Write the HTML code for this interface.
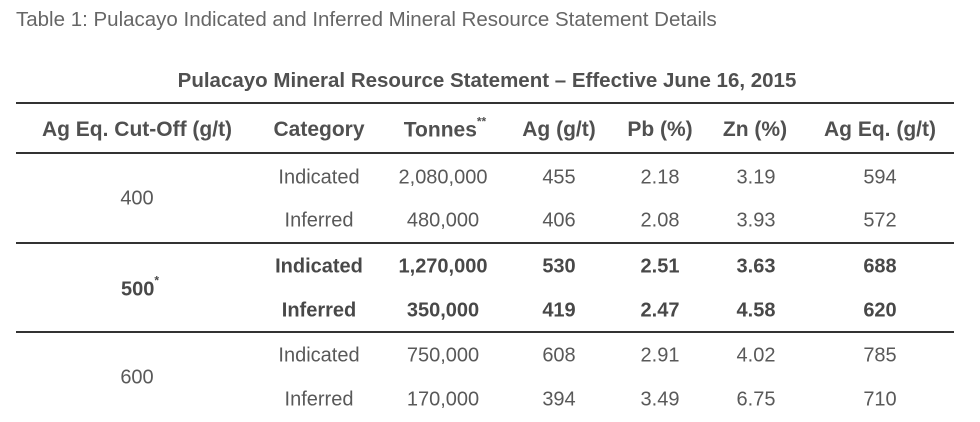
<!DOCTYPE html>
<html><head><meta charset="utf-8"><style>
body{margin:0;width:980px;height:422px;background:#fff;position:relative;overflow:hidden;font-family:"Liberation Sans",Arial,sans-serif;}
.t{position:absolute;transform:translate(-50%,-50%);white-space:nowrap;font-size:20px;color:#595959;}
.b{font-weight:bold;color:#484848;}
.h{font-weight:bold;color:#505050;font-size:21px;}
.l{position:absolute;left:16px;width:938px;height:2px;background:#333;}
sup{font-size:12px;position:relative;top:-3px;}
</style></head><body>
<div style="position:absolute;left:16px;top:8px;font-size:20.5px;color:#666;">Table 1: Pulacayo Indicated and Inferred Mineral Resource Statement Details</div>
<div class="t h" style="left:487px;top:81px;font-size:20.5px;">Pulacayo Mineral Resource Statement – Effective June 16, 2015</div>
<div class="l" style="top:102px"></div>
<div class="l" style="top:152px"></div>
<div class="l" style="top:242px"></div>
<div class="l" style="top:331px"></div>
<div class="t h" style="left:137px;top:130px">Ag Eq. Cut-Off (g/t)</div>
<div class="t h" style="left:319px;top:130px">Category</div>
<div class="t h" style="left:445px;top:130px">Tonnes<sup>**</sup></div>
<div class="t h" style="left:559px;top:130px">Ag (g/t)</div>
<div class="t h" style="left:660px;top:130px">Pb (%)</div>
<div class="t h" style="left:755px;top:130px">Zn (%)</div>
<div class="t h" style="left:880px;top:130px">Ag Eq. (g/t)</div>

<div class="t" style="left:137px;top:199px">400</div>
<div class="t" style="left:319px;top:178px">Indicated</div>
<div class="t" style="left:443px;top:178px">2,080,000</div>
<div class="t" style="left:559px;top:178px">455</div>
<div class="t" style="left:660px;top:178px">2.18</div>
<div class="t" style="left:756px;top:178px">3.19</div>
<div class="t" style="left:880px;top:178px">594</div>
<div class="t" style="left:319px;top:221px">Inferred</div>
<div class="t" style="left:443px;top:221px">480,000</div>
<div class="t" style="left:559px;top:221px">406</div>
<div class="t" style="left:660px;top:221px">2.08</div>
<div class="t" style="left:756px;top:221px">3.93</div>
<div class="t" style="left:880px;top:221px">572</div>

<div class="t b" style="left:140px;top:289px">500<sup>*</sup></div>
<div class="t b" style="left:319px;top:267px">Indicated</div>
<div class="t b" style="left:443px;top:267px">1,270,000</div>
<div class="t b" style="left:559px;top:267px">530</div>
<div class="t b" style="left:660px;top:267px">2.51</div>
<div class="t b" style="left:756px;top:267px">3.63</div>
<div class="t b" style="left:880px;top:267px">688</div>
<div class="t b" style="left:319px;top:311px">Inferred</div>
<div class="t b" style="left:443px;top:311px">350,000</div>
<div class="t b" style="left:559px;top:311px">419</div>
<div class="t b" style="left:660px;top:311px">2.47</div>
<div class="t b" style="left:756px;top:311px">4.58</div>
<div class="t b" style="left:880px;top:311px">620</div>

<div class="t" style="left:137px;top:378px">600</div>
<div class="t" style="left:319px;top:356px">Indicated</div>
<div class="t" style="left:443px;top:356px">750,000</div>
<div class="t" style="left:559px;top:356px">608</div>
<div class="t" style="left:660px;top:356px">2.91</div>
<div class="t" style="left:756px;top:356px">4.02</div>
<div class="t" style="left:880px;top:356px">785</div>
<div class="t" style="left:319px;top:400px">Inferred</div>
<div class="t" style="left:443px;top:400px">170,000</div>
<div class="t" style="left:559px;top:400px">394</div>
<div class="t" style="left:660px;top:400px">3.49</div>
<div class="t" style="left:756px;top:400px">6.75</div>
<div class="t" style="left:880px;top:400px">710</div>
</body></html>
